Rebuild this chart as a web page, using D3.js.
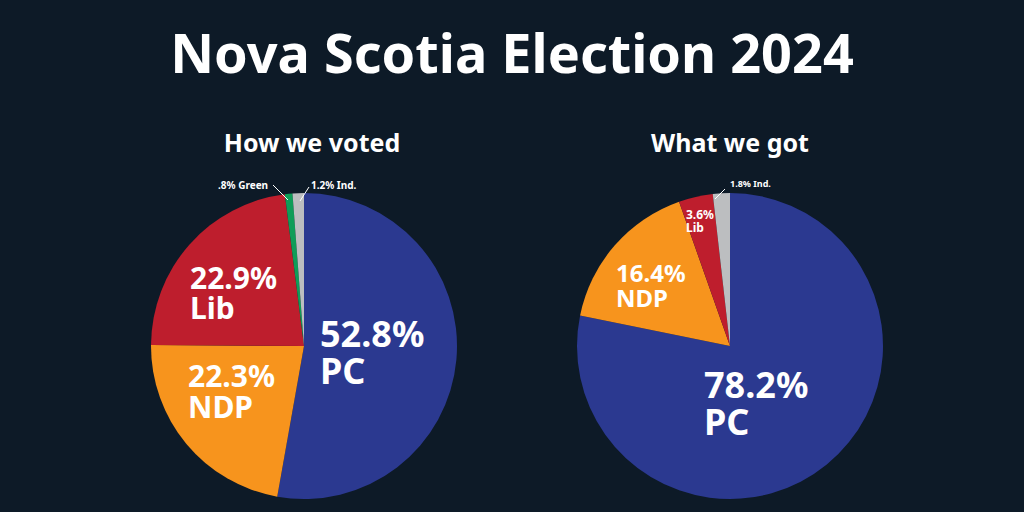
<!DOCTYPE html>
<html><head><meta charset="utf-8">
<script src="https://cdn.jsdelivr.net/npm/d3@7/dist/d3.min.js"></script>
<style>html,body{margin:0;padding:0;background:#0d1a27}svg{display:block}text{font-family:"Noto Sans","Open Sans",sans-serif;font-weight:700;fill:#fff}</style>
</head><body><script>
const titleText = "Nova Scotia Election 2024";
const parties = ["PC","NDP","Lib","Green","Ind."];
const colors = ["#2b3990","#f7941d","#be1e2d","#0f9d58","#bcbec0"];
const votedValues = [52.8,22.3,22.9,0.8,1.2];
const gotValues = [78.2,16.4,3.6,0,1.8];
const chartTitles = ["How we voted","What we got"];

const svg = d3.select("body").append("svg").attr("width",1024).attr("height",512);
svg.append("text").attr("x",512).attr("y",73).attr("text-anchor","middle").attr("font-size",54).text(titleText);

function drawPie(cx,cy,r,values,title,titleX){
  const g = svg.append("g").attr("transform",`translate(${cx},${cy})`);
  const pie = d3.pie().sort(null).value(d=>d)(values);
  const arc = d3.arc().innerRadius(0).outerRadius(r);
  g.selectAll("path").data(pie).join("path").attr("d",arc).attr("fill",(d,i)=>colors[i]);
  svg.append("text").attr("x",titleX).attr("y",152).attr("text-anchor","middle").attr("font-size",25).text(title);
}
drawPie(304,346,153,votedValues,chartTitles[0],312);
drawPie(730,346,153,gotValues,chartTitles[1],730);

function label(x,y,size,lines,lh){
  const t = svg.append("text").attr("font-size",size);
  lines.forEach((l,i)=>t.append("tspan").attr("x",x).attr("y",y+i*lh).text(l));
}
const pct = v => v + "%";
label(320,347,36,[pct(votedValues[0]),parties[0]],37);
label(190,289,30,[pct(votedValues[2]),parties[2]],30);
label(188,387,30,[pct(votedValues[1]),parties[1]],31);
label(704,398,36,[pct(gotValues[0]),parties[0]],37);
label(616,282,24,[pct(gotValues[1]),parties[1]],25);
label(686,219,12,[pct(gotValues[2]),parties[2]],13);
label(218,189,10,[".8% "+parties[3]],0);
label(311,189,10,[pct(votedValues[4])+" "+parties[4]],0);
label(730,187,9,[pct(gotValues[4])+" "+parties[4]],0);

const leaders = [[[273,185],[288,200]],[[309,187],[300,201]],[[725,189],[715,199]]];
svg.selectAll("path.leader").data(leaders).join("path").attr("class","leader")
  .attr("d",d3.line()).attr("stroke","#fff").attr("stroke-width",1).attr("fill","none");
</script></body></html>
